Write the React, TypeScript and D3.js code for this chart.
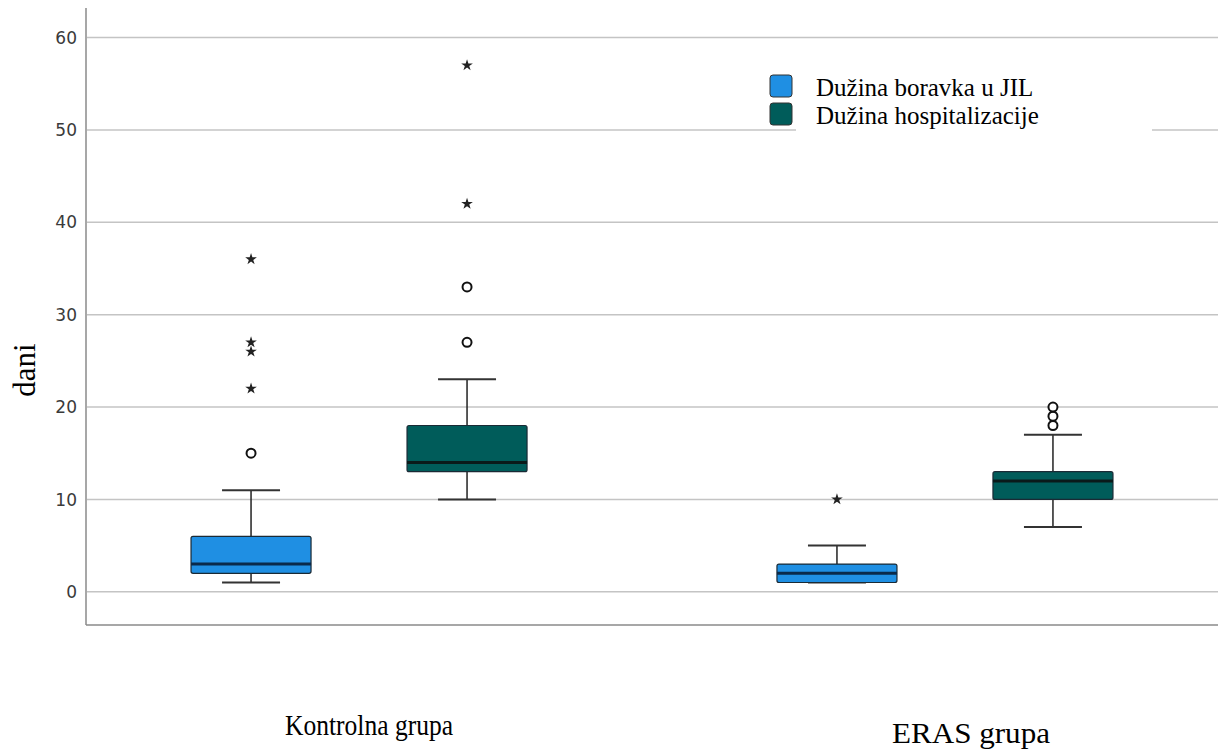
import React, { useEffect, useRef } from "react";
import * as d3 from "d3";

const groups = ["Kontrolna grupa", "ERAS grupa"];
const series = ["Dužina boravka u JIL", "Dužina hospitalizacije"];
const colors = ["#1f8fe3", "#005c5a"];
const medianColors = ["#0a2a4a", "#0a1a1a"];

// per group, per series
const whiskerLow = [[1, 10], [1, 7]];
const q1 = [[2, 13], [1, 10]];
const median = [[3, 14], [2, 12]];
const q3 = [[6, 18], [3, 13]];
const whiskerHigh = [[11, 23], [5, 17]];
const circles = [[[15], [27, 33]], [[], [18, 19, 20]]];
const stars = [[[22, 26, 27, 36], [42, 57]], [[10], []]];

const yTicks = [0, 10, 20, 30, 40, 50, 60];

const App = () => {
  const svgRef = useRef(null);

  useEffect(() => {
    const width = 1225,
      height = 755;
    const svg = d3.select(svgRef.current);
    svg.selectAll("*").remove();
    svg.attr("width", width).attr("height", height);

    const left = 86,
      right = 1218,
      top = 8,
      bottom = 625;

    const y = d3.scaleLinear().domain([-3.6, 63.2]).range([bottom, top]);
    const x = d3.scalePoint().domain(groups).range([left, right]).padding(0.466);
    const xs = d3.scaleBand().domain(series).range([-216, 216]);
    const boxW = 120,
      capW = 58;

    // gridlines
    svg
      .append("g")
      .selectAll("line")
      .data(yTicks)
      .enter()
      .append("line")
      .attr("x1", left + 1)
      .attr("x2", right)
      .attr("y1", (d) => y(d))
      .attr("y2", (d) => y(d))
      .attr("stroke", "#c4c4c4")
      .attr("stroke-width", 1.5);

    // tick labels
    svg
      .append("g")
      .selectAll("text")
      .data(yTicks)
      .enter()
      .append("text")
      .attr("x", 77)
      .attr("y", (d) => y(d))
      .attr("dy", "0.36em")
      .attr("text-anchor", "end")
      .attr("font-family", "DejaVu Sans")
      .attr("font-size", 17)
      .attr("fill", "#3a3a3a")
      .text((d) => d);

    // axes
    svg
      .append("line")
      .attr("x1", left)
      .attr("x2", left)
      .attr("y1", top)
      .attr("y2", bottom)
      .attr("stroke", "#8a8a8a")
      .attr("stroke-width", 1.5);
    svg
      .append("line")
      .attr("x1", left)
      .attr("x2", right)
      .attr("y1", bottom)
      .attr("y2", bottom)
      .attr("stroke", "#8a8a8a")
      .attr("stroke-width", 1.5);

    const star = d3.symbol().type(d3.symbolStar).size(42);

    groups.forEach((g, gi) => {
      series.forEach((s, si) => {
        const cx = x(g) + xs(s) + xs.bandwidth() / 2;
        const bg = svg.append("g");
        // whiskers
        bg.append("line")
          .attr("x1", cx)
          .attr("x2", cx)
          .attr("y1", y(whiskerHigh[gi][si]))
          .attr("y2", y(q3[gi][si]))
          .attr("stroke", "#222")
          .attr("stroke-width", 1.5);
        bg.append("line")
          .attr("x1", cx)
          .attr("x2", cx)
          .attr("y1", y(q1[gi][si]))
          .attr("y2", y(whiskerLow[gi][si]))
          .attr("stroke", "#222")
          .attr("stroke-width", 1.5);
        [whiskerHigh[gi][si], whiskerLow[gi][si]].forEach((v) => {
          bg.append("line")
            .attr("x1", cx - capW / 2)
            .attr("x2", cx + capW / 2)
            .attr("y1", y(v))
            .attr("y2", y(v))
            .attr("stroke", "#333")
            .attr("stroke-width", 2);
        });
        // box
        bg.append("rect")
          .attr("x", cx - boxW / 2)
          .attr("y", y(q3[gi][si]))
          .attr("width", boxW)
          .attr("height", y(q1[gi][si]) - y(q3[gi][si]))
          .attr("rx", 2)
          .attr("fill", colors[si])
          .attr("stroke", "#1a2a35")
          .attr("stroke-width", 1.2);
        bg.append("line")
          .attr("x1", cx - boxW / 2)
          .attr("x2", cx + boxW / 2)
          .attr("y1", y(median[gi][si]))
          .attr("y2", y(median[gi][si]))
          .attr("stroke", medianColors[si])
          .attr("stroke-width", 3);
        // outliers
        bg.selectAll("circle")
          .data(circles[gi][si])
          .enter()
          .append("circle")
          .attr("cx", cx)
          .attr("cy", (d) => y(d))
          .attr("r", 4.5)
          .attr("fill", "#fff")
          .attr("stroke", "#111")
          .attr("stroke-width", 2);
        bg.selectAll("path.star")
          .data(stars[gi][si])
          .enter()
          .append("path")
          .attr("class", "star")
          .attr("d", star)
          .attr("transform", (d) => `translate(${cx},${y(d)})`)
          .attr("fill", "#222");
      });
    });

    // legend
    const lg = svg.append("g");
    lg.append("rect")
      .attr("x", 796)
      .attr("y", 62)
      .attr("width", 356)
      .attr("height", 80)
      .attr("fill", "#fff");
    series.forEach((s, i) => {
      lg.append("rect")
        .attr("x", 770)
        .attr("y", 75 + i * 28)
        .attr("width", 22)
        .attr("height", 22)
        .attr("rx", 3)
        .attr("fill", colors[i])
        .attr("stroke", "#333")
        .attr("stroke-width", 1);
      lg.append("text")
        .attr("x", 816)
        .attr("y", 96 + i * 28)
        .attr("font-family", "Liberation Serif")
        .attr("font-size", 25)
        .attr("fill", "#000")
        .text(s);
    });

    // y label
    svg
      .append("text")
      .attr("transform", "translate(35,370) rotate(-90)")
      .attr("text-anchor", "middle")
      .attr("font-family", "Liberation Serif")
      .attr("font-size", 31)
      .text("dani");

    // group labels
    const labelX = [285, 892];
    const labelY = [735, 743];
    const labelW = [168, 158];
    groups.forEach((g, i) => {
      svg
        .append("text")
        .attr("x", labelX[i])
        .attr("y", labelY[i])
        .attr("font-family", "Liberation Serif")
        .attr("font-size", 30)
        .attr("textLength", labelW[i])
        .attr("lengthAdjust", "spacingAndGlyphs")
        .text(g);
    });
  }, []);

  return <svg ref={svgRef} style={{ position: "absolute", left: 0, top: 0 }}></svg>;
};

export default App;
